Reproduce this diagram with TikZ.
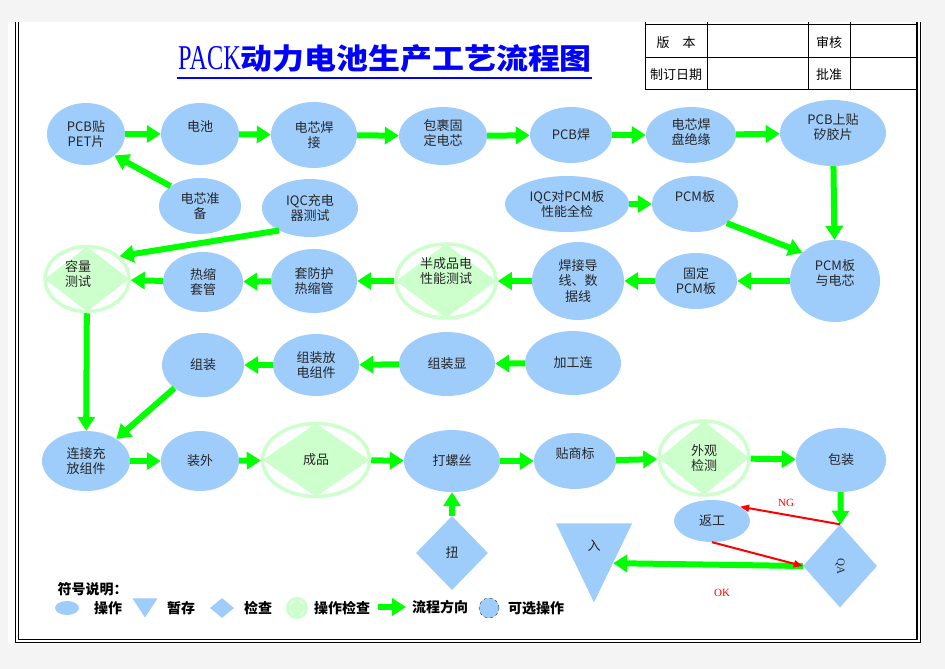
\documentclass[tikz,border=0pt]{standalone}
\usepackage{fontspec}
\setmainfont{Liberation Serif}
\newfontfamily\cjk{Noto Sans CJK SC}
\usetikzlibrary{shapes.geometric,arrows.meta}
\definecolor{opblue}{RGB}{158,205,252}
\definecolor{ckgreen}{RGB}{204,255,204}
\definecolor{flowgreen}{RGB}{0,255,0}
\definecolor{pagegray}{RGB}{244,244,244}
\newcommand\ndfont{\cjk\fontsize{13}{15.5}\selectfont}
\newcommand\lgfont{\cjk\bfseries\fontsize{14}{16}\selectfont}
\newcommand\tbfont{\cjk\fontsize{13}{15}\selectfont}
\newcommand\rdfont{\fontsize{11}{13}\selectfont}
\begin{document}
\begin{tikzpicture}[x=1pt,y=-1pt,line join=round,
  op/.style 2 args={ellipse,fill=opblue,minimum width=#1,minimum height=#2,inner sep=0pt,align=center,font=\ndfont,text=black!85},
  ck/.style 2 args={ellipse,draw=ckgreen,line width=3.5pt,fill=white,minimum width=#1,minimum height=#2,inner sep=0pt,align=center,font=\ndfont,text=black!85,
    path picture={\fill[ckgreen] (path picture bounding box.west) -- (path picture bounding box.north) -- (path picture bounding box.east) -- (path picture bounding box.south) -- cycle;}},
  chk/.style={diamond,fill=opblue,inner sep=0pt,font=\ndfont,text=black!85},
  st/.style={isosceles triangle,isosceles triangle stretches,shape border rotate=-90,fill=opblue,inner sep=0pt,font=\ndfont,text=black!85},
  txt/.style 2 args={label={[font=\ndfont,text=black!85,align=center,#1]center:#2}},
  flow/.style={draw=flowgreen,line width=6pt,-{Triangle[length=14pt,width=17pt]}},
  back/.style={draw=red,line width=2pt,-{Triangle[length=9pt,width=7pt]}},
  key/.style={font=\lgfont}]
\useasboundingbox (0,0) rectangle (945,669);
\fill[pagegray] (0,0) rectangle (945,669);
\fill[white] (8,22) rectangle (921.5,644);
% frame
\draw[line width=1.1pt] (15.5,22) -- (15.5,642.5) -- (920.5,642.5) -- (920.5,22);
\draw[line width=1.1pt] (18.5,22) -- (18.5,639.5) -- (917,639.5) -- (917,22);
% title block
\draw[line width=1pt] (645,22) -- (645,89) (707,22) -- (707,89) (808,22) -- (808,89) (850,22) -- (850,89)
  (645,25) -- (917,25) (645,58) -- (917,58) (645,89) -- (917,89);
\node[font=\tbfont] (ver) at (676,43) {版\quad 本};
\node[font=\tbfont] (rev) at (829,43) {审核};
\node[font=\tbfont] (date) at (676,75) {制订日期};
\node[font=\tbfont] (appr) at (829,75) {批准};
\node[text=blue,anchor=west,inner sep=0pt] (title) at (178,59) {\fontsize{29}{31}\selectfont\scalebox{0.84}[1.2]{PACK}\scalebox{1.1}[1]{\cjk\bfseries 动力电池生产工艺流程图}};
\draw[blue,line width=2.5pt] (177,78) -- (592,78);

% row 1
\node[op={78pt}{62pt}] (pcbpet) at (86,134) {PCB贴\\PET片};
\node[op={78pt}{62pt},txt={yshift=7pt}{电池}] (bat) at (200,134) {};
\node[op={86pt}{66pt}] (weld) at (314,135) {电芯焊\\接};
\node[op={88pt}{58pt},txt={yshift=3pt}{包裹固\\定电芯}] (wrap) at (443,136) {};
\node[op={82pt}{56pt}] (pcbw) at (571,135) {PCB焊};
\node[op={90pt}{56pt},txt={yshift=3pt}{电芯焊\\盘绝缘}] (insu) at (691,135) {};
\node[op={106pt}{66pt},txt={yshift=6pt}{PCB上贴\\矽胶片}] (sili) at (833,133) {};
% row 2
\node[op={82pt}{56pt}] (prep) at (200,206) {电芯准\\备};
\node[op={96pt}{58pt}] (iqcc) at (310,208) {IQC充电\\器测试};
\node[op={124pt}{56pt}] (iqcp) at (567,204) {IQC对PCM板\\性能全检};
\node[op={86pt}{56pt},txt={yshift=7pt}{PCM板}] (pcm) at (695,204) {};
% row 3
\node[ck={84pt}{65pt},txt={xshift=-9pt,yshift=5pt}{容量\\测试}] (cap) at (87,279) {};
\node[op={80pt}{60pt}] (shrink) at (203,282) {热缩\\套管};
\node[op={86pt}{64pt}] (sleeve) at (314,281) {套防护\\热缩管};
\node[ck={100pt}{74pt},txt={yshift=10pt}{半成品电\\性能测试}] (semi) at (446,281) {};
\node[op={92pt}{78pt}] (wire) at (578,281) {焊接导\\线、数\\据线};
\node[op={82pt}{56pt}] (fix) at (696,281) {固定\\PCM板};
\node[op={90pt}{82pt},txt={yshift=8pt}{PCM板\\与电芯}] (pcmc) at (835,281) {};
% row 4
\node[op={82pt}{64pt}] (asm) at (203,365) {组装};
\node[op={86pt}{62pt}] (asmd) at (316,365) {组装放\\电组件};
\node[op={96pt}{64pt}] (asmx) at (447,364) {组装显};
\node[op={96pt}{64pt}] (proc) at (573,363) {加工连};
% row 5
\node[op={88pt}{60pt}] (conn) at (86,461) {连接充\\放组件};
\node[op={78pt}{60pt}] (outer) at (200,461) {装外};
\node[ck={107pt}{73pt}] (prod) at (316,460) {成品};
\node[op={96pt}{62pt}] (screw) at (452,461) {打螺丝};
\node[op={82pt}{56pt},txt={yshift=7pt}{贴商标}] (lbl) at (575,461) {};
\node[ck={90pt}{74pt}] (look) at (704,458) {外观\\检测};
\node[op={90pt}{64pt}] (pack) at (841,460) {包装};
% row 6
\node[chk,minimum width=72pt,minimum height=74pt] (torq) at (452,553) {扭};
\node[st,minimum width=76pt,minimum height=79pt,anchor=apex] (store) at (594,603) {入};
\node[op={76pt}{42pt}] (rework) at (712,521) {返工};
\node[chk,minimum width=74pt,minimum height=83pt,font=\rdfont] (qa) at (840,566) {\rotatebox{-90}{QA}};
\node[text=red,font=\rdfont] (ngl) at (786,503) {NG};
\node[text=red,font=\rdfont] (okl) at (722,593) {OK};

% flow
\draw[flow] (pcbpet) -- (bat);
\draw[flow] (bat) -- (weld);
\draw[flow] (weld) -- (wrap);
\draw[flow] (wrap) -- (pcbw);
\draw[flow] (pcbw) -- (insu);
\draw[flow] (insu) -- (sili);
\draw[flow] (sili) -- (pcmc);
\draw[flow] (prep.146) -- (pcbpet.323);
\draw[flow] (iqcc.216) -- (cap.35);
\draw[flow] (iqcp) -- (pcm);
\draw[flow] (pcm.329) -- (pcmc.139);
\draw[flow] (pcmc) -- (fix);
\draw[flow] (fix) -- (wire);
\draw[flow] (wire) -- (semi);
\draw[flow] (semi) -- (sleeve);
\draw[flow] (sleeve) -- (shrink);
\draw[flow] (shrink) -- (cap);
\draw[flow] (cap) -- (conn);
\draw[flow] (proc) -- (asmx);
\draw[flow] (asmx) -- (asmd);
\draw[flow] (asmd) -- (asm);
\draw[flow] (asm.219) -- (conn.36);
\draw[flow] (conn) -- (outer);
\draw[flow] (outer) -- (prod);
\draw[flow] (prod) -- (screw);
\draw[flow] (screw) -- (lbl);
\draw[flow] (lbl) -- (look);
\draw[flow] (look) -- (pack);
\draw[flow] (pack) -- (qa);
\draw[flow] (torq) -- (screw);
\draw[flow] (qa.west) -- (store.left side);
\draw[back] (qa.north) -- (rework.27);
\draw[back] (rework.south) -- (qa.west);

% legend
\node[key,anchor=west] (keyhead) at (54,589) {符号说明：};
\node[op={24pt}{14pt}] (k1) at (67,608) {};
\node[key] (k1t) at (108,608) {操作};
\node[st,minimum width=25pt,minimum height=19pt,anchor=apex] (k2) at (145,618) {};
\node[key] (k2t) at (181,608) {暂存};
\node[chk,minimum width=24pt,minimum height=20pt] (k3) at (222,608) {};
\node[key] (k3t) at (258,608) {检查};
\node[ck={19pt}{19pt},line width=3pt] (k4) at (297,608) {};
\node[key] (k4t) at (342,608) {操作检查};
\coordinate (k5a) at (378,607);
\coordinate (k5b) at (406,607);
\draw[flow] (k5a) -- (k5b);
\node[key] (k5t) at (440,607) {流程方向};
\node[circle,fill=opblue,draw=black!80,dashed,minimum size=20pt,inner sep=0pt] (k6) at (489,608) {};
\node[key] (k6t) at (536,608) {可选操作};
\end{tikzpicture}
\end{document}
